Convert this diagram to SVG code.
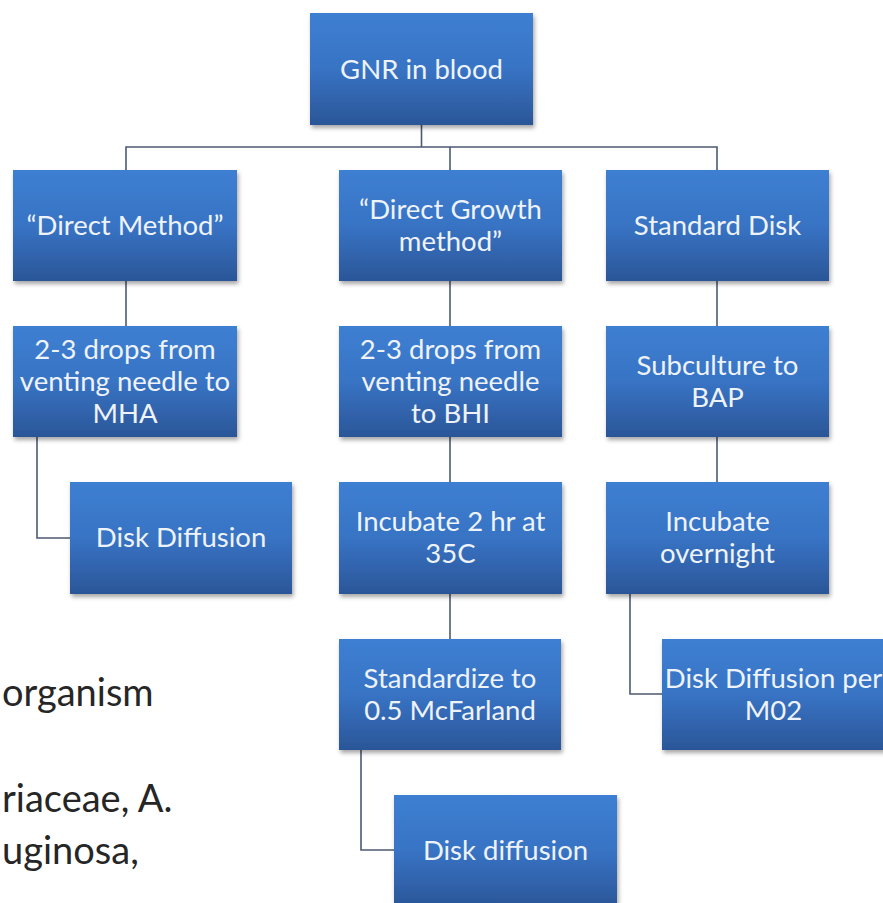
<svg xmlns="http://www.w3.org/2000/svg" width="883" height="903" viewBox="0 0 883 903">
<defs>
  <linearGradient id="boxg" x1="0" y1="0" x2="0" y2="1">
    <stop offset="0" stop-color="#3d7fd2"/>
    <stop offset="0.5" stop-color="#3873c4"/>
    <stop offset="1" stop-color="#2b5698"/>
  </linearGradient>
  <filter id="sh" x="-10%" y="-10%" width="125%" height="130%">
    <feDropShadow dx="1.5" dy="3" stdDeviation="2" flood-color="#000" flood-opacity="0.35"/>
  </filter>
</defs>
<style>
  .box { fill: url(#boxg); filter: url(#sh); }
  .t { font-family: Lato, "Liberation Sans", sans-serif; font-size: 27.5px; fill: #eef3fa; text-anchor: middle; }
  .c { fill: none; stroke: #4c5a72; stroke-width: 1.6; }
  .side { font-family: Lato, "Liberation Sans", sans-serif; font-size: 38px; fill: #262626; }
</style>
<rect width="883" height="903" fill="#ffffff"/>

<g id="sidetext">
  <text class="side" x="2" y="706">organism</text>
  <text class="side" x="2" y="812">riaceae, A.</text>
  <text class="side" x="2" y="864">uginosa,</text>
</g>

<g id="connectors">
  <path class="c" d="M421.5 125 V147 M126 170 V147 H717 V170 M450 147 V170"/>
  <path class="c" d="M126 281 V326 M37 437 V538 H70"/>
  <path class="c" d="M450 281 V326 M450 437 V482 M450 594 V639 M361 750 V850 H394"/>
  <path class="c" d="M717 281 V326 M717 437 V482 M630 594 V694 H662"/>
</g>

<g id="n-gnr"><rect class="box" x="310" y="13" width="223" height="112"/><text class="t" x="421.5" y="79">GNR in blood</text></g>

<g id="n-direct"><rect class="box" x="13" y="170" width="224" height="111"/><text class="t" x="125" y="235">“Direct Method”</text></g>
<g id="n-directgrowth"><rect class="box" x="339" y="170" width="223" height="111"/><text class="t" x="450.5" y="219">“Direct Growth</text><text class="t" x="450.5" y="251">method”</text></g>
<g id="n-standard"><rect class="box" x="606" y="170" width="223" height="111"/><text class="t" x="717.5" y="235">Standard Disk</text></g>

<g id="n-mha"><rect class="box" x="13" y="326" width="224" height="111"/><text class="t" x="125" y="359">2-3 drops from</text><text class="t" x="125" y="391">venting needle to</text><text class="t" x="125" y="423">MHA</text></g>
<g id="n-bhi"><rect class="box" x="339" y="326" width="223" height="111"/><text class="t" x="450.5" y="359">2-3 drops from</text><text class="t" x="450.5" y="391">venting needle</text><text class="t" x="450.5" y="423">to BHI</text></g>
<g id="n-bap"><rect class="box" x="606" y="326" width="223" height="111"/><text class="t" x="717.5" y="375">Subculture to</text><text class="t" x="717.5" y="407">BAP</text></g>

<g id="n-diskdiff1"><rect class="box" x="70" y="482" width="222" height="112"/><text class="t" x="181" y="547">Disk Diffusion</text></g>
<g id="n-incubate2"><rect class="box" x="339" y="482" width="223" height="112"/><text class="t" x="450.5" y="531">Incubate 2 hr at</text><text class="t" x="450.5" y="563">35C</text></g>
<g id="n-overnight"><rect class="box" x="606" y="482" width="223" height="112"/><text class="t" x="717.5" y="531">Incubate</text><text class="t" x="717.5" y="563">overnight</text></g>

<g id="n-standardize"><rect class="box" x="339" y="639" width="222" height="111"/><text class="t" x="450" y="688">Standardize to</text><text class="t" x="450" y="720">0.5 McFarland</text></g>
<g id="n-m02"><rect class="box" x="662" y="639" width="223" height="111"/><text class="t" x="773.5" y="688">Disk Diffusion per</text><text class="t" x="773.5" y="720">M02</text></g>

<g id="n-diskdiff2"><rect class="box" x="394" y="795" width="223" height="112"/><text class="t" x="505.5" y="860">Disk diffusion</text></g>
</svg>
